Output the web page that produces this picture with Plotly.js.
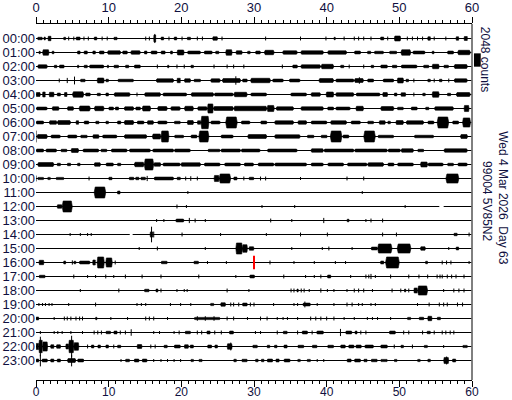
<!DOCTYPE html>
<html><head><meta charset="utf-8">
<script src="https://cdn.plot.ly/plotly-3.0.1.min.js"></script>
<style>html,body{margin:0;padding:0;background:#fff}#chart{width:512px;height:400px}</style>
</head><body><div id="chart"></div>
<script>
// ---- data ----
const hourLabels = ['00:00','01:00','02:00','03:00','04:00','05:00','06:00','07:00','08:00','09:00','10:00','11:00',
  '12:00','13:00','14:00','15:00','16:00','17:00','18:00','19:00','20:00','21:00','22:00','23:00'];
const minuteTicks = [0, 10, 20, 30, 40, 50, 60];
const ROW_COUNTS = 2150;          // vertical offset between hour lines, counts
const traceEnd = 59.9;            // minutes drawn on each line
const gapRows  = [12, 14];
const gapStart = [55.5, 12.9];
const gapEnd   = [56.1, 13.3];
const markerMinute = 30, markerRow = 16, markerAmp = 1050;
const scaleCounts = 2048, scaleTop = -2280;
// bursts per hour: [startMin, endMin, halfAmplitudeCounts]  (start == end: single spike)
const e00 = [[0.2,0.9,190],[1.1,1.3,220],[1.65,2.1,340],[3.8,4.1,190],[4.5,4.5,300],[5.2,5.2,300],[5.5,6.1,220],[6.6,6.6,300],[7.2,7.2,300],[8.0,8.4,220],[9.1,9.1,300],[9.8,9.8,300],[10.7,11.2,190],[15.1,15.1,300],[15.6,15.6,300],[16.2,16.5,520],[16.35,16.35,700],[17.2,17.6,220],[18.3,18.3,300],[19.0,19.4,220],[20.1,20.1,300],[20.8,21.3,190],[22.2,22.2,300],[22.9,22.9,300],[24.3,25.0,260],[25.6,25.6,300],[31.6,31.6,300],[36.4,36.4,300],[39.9,39.9,300],[41.0,41.2,190],[42.4,42.4,300],[43.8,43.8,300],[44.4,44.4,300],[45.1,45.1,300],[46.1,46.1,300],[47.4,47.9,220],[48.4,48.4,300],[49.3,50.2,380],[51.1,51.1,300],[51.8,51.8,300],[52.5,52.5,300],[53.2,53.2,300],[53.9,54.3,260],[54.8,54.8,300],[56.4,56.4,300],[57.8,58.2,260],[58.9,59.4,300]];
const e01 = [[0.4,0.6,190],[0.9,1.8,420],[2.2,2.5,190],[5.7,6.1,220],[6.6,7.1,220],[7.8,8.2,220],[8.7,9.4,220],[9.8,11.7,260],[11.9,12.6,220],[13.0,14.4,260],[14.9,15.3,220],[15.8,16.7,220],[17.2,17.8,220],[18.5,18.8,220],[19.4,20.4,380],[20.8,22.7,220],[23.1,24.3,220],[24.7,25.2,190],[26.1,27.0,420],[27.5,28.4,260],[29.1,29.5,190],[30.2,30.9,220],[31.4,32.8,340],[33.9,36.0,260],[36.4,39.6,260],[40.1,42.8,260],[43.8,44.7,220],[45.6,46.1,190],[46.5,47.9,190],[48.6,49.7,190],[50.2,51.6,420],[51.8,53.6,220],[54.5,54.8,190],[56.6,57.5,220],[58.0,59.8,340]];
const e02 = [[0.2,1.6,260],[2.5,2.9,190],[3.2,3.9,220],[5.7,5.9,190],[6.6,7.1,190],[7.3,9.4,220],[9.8,10.0,190],[10.7,11.4,190],[12.3,12.8,190],[13.5,14.4,220],[16.7,16.7,300],[18.1,18.3,190],[19.4,19.4,300],[20.4,20.4,300],[21.3,21.7,190],[24.5,24.5,300],[26.3,26.3,300],[27.2,27.2,300],[28.6,28.6,300],[33.9,33.9,300],[35.3,36.0,220],[36.4,39.2,260],[39.2,41.0,340],[41.9,42.4,190],[43.1,43.1,300],[45.1,45.1,300],[46.1,46.5,190],[47.4,48.4,220],[49.0,49.7,190],[50.2,52.5,220],[53.3,54.1,190],[54.5,55.5,340],[56.1,56.8,190],[57.5,59.4,300]];
const e03 = [[3.2,3.2,300],[4.3,4.3,400],[5.3,5.3,600],[6.1,6.8,190],[8.4,9.4,380],[9.6,10.0,190],[11.2,13.5,190],[16.5,19.0,260],[19.4,19.9,340],[20.4,21.3,260],[21.7,22.7,190],[24.0,25.4,260],[25.6,28.2,300],[27.5,27.5,650],[28.4,29.1,220],[29.5,32.3,340],[32.5,34.1,220],[34.8,36.4,220],[38.9,41.0,300],[41.2,43.8,220],[43.8,45.1,300],[44.5,44.5,500],[45.6,46.5,220],[47.7,49.3,220],[49.7,50.6,380],[50.9,51.3,190],[52.0,52.0,300],[53.9,54.3,190],[54.8,54.8,300],[55.5,55.9,190],[56.8,56.8,300],[57.5,59.4,260]];
const e04 = [[0.0,0.6,300],[0.9,1.3,380],[1.8,2.5,340],[2.9,3.4,220],[3.9,4.3,300],[5.0,6.6,420],[6.8,7.5,220],[8.4,8.9,190],[9.6,10.0,220],[10.7,13.0,260],[13.9,13.9,300],[14.9,17.2,260],[17.4,20.8,220],[21.3,24.5,260],[24.5,27.2,220],[27.2,29.1,340],[29.5,31.8,220],[35.0,37.3,220],[37.8,39.2,260],[39.9,41.0,380],[41.2,43.8,260],[44.0,47.4,220],[47.7,48.4,300],[49.3,49.7,220],[50.2,50.9,260],[52.0,52.0,300],[53.2,53.6,190],[54.5,55.5,420],[56.6,57.1,190],[57.8,59.8,300]];
const e05 = [[0.0,1.6,220],[2.2,3.2,260],[4.3,5.2,260],[5.9,7.5,380],[8.0,9.4,340],[10.0,10.7,220],[10.9,11.4,220],[12.1,13.5,260],[13.7,14.4,220],[14.6,15.8,380],[16.7,18.1,300],[18.5,19.9,260],[20.4,21.7,340],[22.2,23.6,260],[23.6,24.4,700],[24.4,27.2,300],[27.2,31.8,340],[31.8,32.8,470],[33.0,35.5,260],[36.4,39.6,260],[40.1,41.0,220],[41.2,43.3,220],[44.0,45.1,340],[47.4,49.3,300],[49.7,50.6,190],[51.6,52.5,220],[53.6,54.1,190],[54.8,57.5,260],[58.9,59.6,470]];
const e06 = [[0.0,1.1,220],[1.8,2.9,260],[2.9,4.8,300],[5.5,5.9,260],[6.6,7.3,220],[8.2,8.7,190],[9.6,10.0,190],[11.2,11.7,220],[12.1,13.5,300],[13.9,14.9,220],[15.3,16.2,260],[16.7,18.1,220],[19.0,19.9,190],[20.8,21.7,300],[22.2,22.7,260],[22.7,23.8,950],[24.0,25.4,220],[26.1,27.7,850],[28.2,29.5,220],[30.9,31.8,220],[32.8,35.5,260],[36.0,37.3,260],[37.8,40.1,220],[40.5,42.8,260],[43.3,44.7,220],[45.6,46.5,190],[47.2,48.1,260],[48.4,48.8,190],[49.5,50.6,300],[50.9,53.4,260],[53.9,54.8,220],[55.2,56.8,850],[57.3,58.2,220],[58.7,59.8,700]];
const e07 = [[0.0,0.0,900],[0.1,1.6,300],[2.0,3.4,220],[4.3,5.7,220],[6.1,7.1,190],[7.8,8.7,260],[9.1,11.2,220],[12.1,15.3,260],[16.0,17.2,380],[17.2,18.3,850],[19.0,20.4,190],[21.3,22.2,220],[22.4,23.8,850],[25.4,27.2,220],[29.1,31.8,300],[32.8,36.4,260],[37.3,38.3,190],[39.2,40.1,190],[40.5,42.1,850],[42.2,43.1,220],[45.1,46.7,850],[47.0,49.3,190],[52.0,54.8,190],[58.4,59.4,300]];
const e08 = [[0.0,1.1,220],[1.3,2.9,220],[3.4,4.3,190],[4.8,5.9,300],[6.4,8.7,220],[8.9,9.8,190],[10.3,12.6,220],[12.8,15.8,220],[16.0,19.0,220],[19.0,21.3,220],[23.6,25.4,190],[25.4,28.2,220],[28.2,30.9,220],[31.8,36.0,220],[37.8,39.6,260],[39.6,43.8,220],[43.8,48.4,220],[48.4,50.2,220],[50.2,52.0,260],[52.5,53.4,190],[56.1,59.4,260]];
const e09 = [[0.2,2.5,300],[2.9,3.4,190],[4.3,4.8,190],[5.7,6.1,190],[8.0,8.9,260],[9.6,10.7,220],[11.2,11.7,190],[13.5,14.9,340],[14.9,16.2,850],[16.2,17.2,260],[17.4,19.9,220],[19.9,22.7,260],[23.1,25.4,220],[25.9,28.2,220],[28.6,30.0,220],[30.5,32.8,220],[32.8,37.3,220],[37.8,39.6,220],[40.1,42.4,220],[42.8,45.6,220],[45.6,47.9,260],[48.4,49.3,220],[49.7,52.0,220],[52.9,53.9,380],[53.9,56.1,220],[56.6,57.5,190],[58.0,59.4,220]];
const e10 = [[0.0,0.0,450],[0.2,1.1,170],[1.6,2.0,170],[2.7,3.9,170],[7.3,7.3,300],[10.0,10.5,190],[12.8,13.5,190],[13.7,14.2,190],[14.4,15.1,190],[15.3,15.3,400],[16.2,19.0,220],[19.4,19.9,190],[20.6,20.6,300],[21.3,21.3,350],[22.2,22.2,300],[24.5,25.2,470],[25.2,26.8,700],[27.2,27.7,220],[28.6,28.6,300],[29.3,30.0,190],[30.9,30.9,300],[31.6,31.6,300],[36.4,36.4,230],[42.8,42.8,300],[45.1,45.1,300],[56.4,58.2,700]];
const e11 = [[8.0,9.6,850],[11.2,11.6,220],[20.9,20.9,230],[44.9,44.9,230]];
const e12 = [[2.9,3.6,260],[3.6,5.0,850],[19.4,19.4,300],[20.7,20.7,230],[31.1,31.1,230],[35.6,35.6,230],[50.8,50.8,230]];
const e13 = [[16.6,16.6,230],[17.6,17.6,230],[19.2,20.4,220],[21.1,21.1,400],[21.9,21.9,300],[23.3,23.3,230],[32.3,32.3,300],[35.2,35.2,230],[39.6,39.6,400],[42.8,43.1,190],[45.4,45.4,230],[46.1,46.1,300],[47.7,47.7,300]];
const e14 = [[4.7,4.7,230],[6.1,6.1,230],[7.1,7.1,230],[7.6,7.6,230],[15.9,15.9,1200],[15.7,16.1,400],[16.2,16.2,450],[20.1,20.1,300],[25.4,25.4,230],[31.7,31.7,230],[36.4,36.4,300],[40.1,40.1,300],[47.7,47.7,300],[49.6,49.6,300],[57.5,58.0,190],[59.6,59.6,300]];
const e15 = [[14.2,14.2,230],[16.7,16.7,300],[23.3,23.3,230],[27.5,28.4,850],[28.4,29.1,580],[29.3,30.0,260],[35.2,35.2,230],[39.4,39.4,230],[40.3,40.3,300],[43.5,43.5,230],[46.1,47.0,220],[47.0,49.0,700],[49.7,51.6,700],[52.9,53.6,260],[56.8,56.8,230],[57.8,58.2,220]];
const e16 = [[0.4,1.1,340],[3.8,4.1,220],[5.0,5.0,330],[5.2,5.5,190],[5.9,7.5,220],[7.8,8.2,380],[8.4,9.4,850],[9.6,10.5,700],[10.9,10.9,300],[17.2,18.1,190],[21.7,22.4,190],[23.6,23.6,230],[26.2,26.2,230],[32.2,32.2,300],[35.5,35.5,230],[38.3,38.3,230],[41.2,41.2,230],[42.6,42.6,230],[47.4,47.9,220],[48.1,50.0,850],[53.6,53.9,190],[55.9,55.9,300],[56.5,56.5,300],[57.1,57.1,300],[59.6,59.6,230]];
const e17 = [[0.4,1.3,190],[5.2,5.2,300],[7.1,7.1,230],[8.2,8.2,230],[9.6,9.6,300],[10.7,10.7,230],[12.3,12.3,300],[14.6,14.6,300],[17.2,17.2,300],[22.4,22.4,300],[27.5,27.5,230],[29.4,30.1,220],[34.1,34.1,300],[37.1,37.1,230],[38.3,38.3,230],[39.2,39.2,300],[40.1,40.6,220],[43.3,43.3,230],[45.4,45.4,300],[45.8,45.8,300],[46.1,46.1,400],[46.7,46.7,230],[48.8,48.8,300],[51.3,51.3,300],[52.7,52.7,300],[53.9,53.9,300],[55.2,55.2,300],[55.6,55.6,300],[55.9,55.9,300],[56.6,56.6,300],[57.2,57.2,300],[57.8,57.8,300],[58.9,58.9,300]];
const e18 = [[6.1,6.1,230],[11.4,11.4,300],[14.9,15.6,190],[16.5,16.8,220],[17.2,17.2,300],[19.4,19.4,230],[20.4,20.4,230],[20.8,20.8,230],[26.3,26.3,300],[29.3,29.3,230],[35.1,35.1,300],[35.5,35.5,300],[35.9,36.1,220],[36.5,36.5,300],[36.9,36.9,300],[37.6,37.6,230],[39.2,39.2,330],[40.1,40.1,230],[41.0,41.0,230],[42.8,42.8,230],[43.8,43.8,300],[44.4,44.4,300],[45.1,45.1,300],[46.3,46.3,230],[49.0,49.0,300],[50.2,50.2,300],[50.7,50.9,220],[51.3,51.3,300],[52.0,52.5,380],[52.5,53.9,700],[56.1,56.1,230],[57.5,57.5,300],[58.2,58.2,300],[58.9,58.9,300]];
const e19 = [[0.4,0.4,230],[0.9,0.9,230],[1.3,1.3,230],[1.8,1.8,230],[2.2,2.2,230],[4.5,4.5,230],[8.2,8.2,300],[13.9,13.9,230],[14.5,14.5,230],[15.1,15.1,230],[18.5,18.5,230],[19.9,19.9,230],[21.3,21.3,230],[24.0,24.5,170],[25.4,26.1,260],[26.8,26.8,300],[27.2,27.2,300],[27.9,27.9,300],[28.4,29.1,220],[29.5,29.5,300],[30.0,30.0,300],[32.7,32.7,230],[35.5,35.5,230],[36.0,36.0,230],[36.7,37.8,220],[37.0,37.0,450],[38.7,38.7,230],[41.0,41.0,230],[42.8,42.8,300],[43.5,43.5,300],[44.4,44.4,230],[44.9,44.9,230],[46.1,46.1,230],[46.7,46.7,230],[52.5,52.5,230],[54.1,54.1,300],[55.5,55.5,300],[56.1,56.1,300],[56.6,56.6,300],[58.0,58.0,300],[58.7,58.7,300]];
const e20 = [[0.0,0.4,220],[2.5,2.5,230],[3.9,3.9,300],[4.3,4.3,300],[4.8,4.8,300],[5.5,5.5,300],[6.0,6.0,300],[6.4,6.4,300],[8.2,8.4,190],[10.3,10.3,230],[12.6,12.6,230],[15.1,15.1,300],[15.6,15.6,300],[16.2,16.2,300],[18.1,18.1,230],[21.7,25.4,170],[22.2,22.2,350],[23.3,23.3,350],[24.5,24.5,350],[26.3,26.3,300],[27.2,27.2,300],[29.1,29.1,230],[30.9,30.9,300],[31.8,31.8,300],[33.2,33.2,230],[34.0,34.0,230],[34.6,34.6,230],[36.0,36.0,230],[37.8,37.8,300],[38.5,38.5,300],[39.2,39.2,300],[40.0,40.0,300],[41.0,41.0,300],[42.4,42.4,230],[43.8,43.8,230],[45.6,45.6,230],[46.3,46.3,230],[47.0,47.0,230],[48.8,48.8,230],[51.1,51.6,170],[52.7,53.4,190],[53.9,54.5,340],[55.2,55.7,190]];
const e21 = [[0.6,0.6,230],[2.5,2.5,230],[3.0,3.0,230],[3.6,3.6,230],[4.8,4.8,230],[6.4,6.4,230],[8.0,8.0,300],[8.5,8.5,300],[9.0,9.0,300],[9.6,10.3,190],[10.7,11.2,220],[11.6,11.6,300],[12.3,12.3,300],[13.1,13.1,500],[16.2,16.2,230],[17.0,17.0,230],[19.0,19.0,230],[19.7,19.7,300],[20.5,21.3,190],[22.2,22.2,300],[22.8,22.8,300],[23.5,24.0,220],[24.6,24.6,300],[25.5,25.5,300],[26.6,27.2,220],[30.2,30.2,230],[30.9,30.9,230],[33.2,33.2,300],[34.0,34.6,190],[36.0,36.0,300],[36.6,37.4,220],[38.0,38.0,300],[38.6,39.6,220],[41.9,41.9,550],[42.6,43.5,220],[43.9,44.2,220],[44.7,44.7,300],[45.4,45.4,300],[48.6,49.5,220],[50.6,50.6,300],[51.3,51.3,300],[53.2,53.2,300],[53.8,54.3,190],[54.8,54.8,300],[55.9,55.9,300],[56.4,56.4,300],[57.0,57.0,300],[57.5,57.5,300]];
const e22 = [[0.0,0.4,470],[0.4,0.9,950],[0.6,0.6,1500],[0.9,1.6,700],[2.0,2.5,260],[2.8,3.4,260],[4.1,4.5,380],[4.5,5.2,950],[4.9,4.9,1650],[5.2,5.9,580],[7.1,7.1,300],[7.6,8.0,220],[8.5,8.9,220],[9.6,10.0,220],[10.7,10.7,300],[11.2,11.7,190],[13.9,14.6,300],[15.8,15.8,300],[16.4,16.4,300],[17.6,18.1,190],[19.0,19.9,220],[20.4,21.0,260],[21.2,21.7,220],[23.6,24.2,220],[24.6,25.0,220],[26.3,27.0,420],[26.8,26.8,600],[29.8,30.5,190],[31.8,32.2,190],[32.8,33.2,190],[34.1,34.6,220],[36.0,36.9,190],[38.0,38.7,190],[40.1,41.0,190],[41.9,42.6,220],[43.0,43.8,220],[44.0,44.8,220],[45.2,46.5,220],[47.4,48.4,220],[49.3,49.3,300],[50.2,50.6,190],[51.8,51.8,300],[53.4,53.9,170],[56.1,56.1,230],[58.7,59.4,170]];
const e23 = [[0.0,0.4,220],[0.6,0.6,900],[0.8,1.6,220],[2.0,2.5,220],[2.9,3.4,220],[4.3,5.5,300],[4.9,4.9,900],[5.7,6.6,220],[11.7,11.7,230],[12.3,12.9,190],[13.5,14.2,220],[14.6,15.3,220],[16.2,16.2,230],[17.2,17.2,230],[18.1,18.1,230],[19.0,19.0,230],[19.9,19.9,230],[21.3,21.7,170],[22.4,22.9,170],[27.2,27.6,190],[28.3,29.1,190],[30.2,30.6,190],[31.0,31.4,190],[31.8,32.6,220],[33.0,33.5,220],[34.1,35.0,220],[36.0,36.4,170],[37.3,37.8,170],[38.7,38.7,230],[39.6,39.6,230],[42.8,43.4,220],[43.8,44.7,220],[45.1,45.6,190],[46.1,47.0,190],[47.4,48.4,170],[49.3,49.7,170],[52.5,52.9,170],[53.9,54.3,190],[56.1,56.8,470],[56.5,56.5,600],[57.3,57.8,220]];
const hourBursts = [e00,e01,e02,e03,e04,e05,e06,e07,e08,e09,e10,e11,e12,e13,e14,e15,e16,e17,e18,e19,e20,e21,e22,e23];

// ---- build traces ----
const rowY = hourLabels.map((_, i) => -i * ROW_COUNTS);
const bx = [], by = [];
rowY.forEach((y0, r) => {
  let segs = [[0, traceEnd]];
  gapRows.forEach((gr, k) => {
    if (gr === r) {
      const ns = [];
      segs.forEach(s => {
        if (gapStart[k] > s[0]) ns.push([s[0], Math.min(s[1], gapStart[k])]);
        if (gapEnd[k] < s[1]) ns.push([Math.max(s[0], gapEnd[k]), s[1]]);
      });
      segs = ns;
    }
  });
  segs.forEach(s => { bx.push(s[0], s[1], null); by.push(y0, y0, null); });
});
const fx = [], fy = [], sx = [], sy = [];
hourBursts.forEach((list, r) => {
  const y0 = rowY[r];
  list.forEach(([a, b, amp]) => {
    if (b - a < 0.15) {
      const m = (a + b) / 2;
      sx.push(m, m, null); sy.push(y0 - amp, y0 + amp, null);
    } else {
      const t = Math.min(0.15, (b - a) * 0.1);
      fx.push(a, a + t, b - t, b, b - t, a + t, a, null);
      fy.push(y0, y0 + amp, y0 + amp, y0, y0 - amp, y0 - amp, y0, null);
    }
  });
});

const PX_PER_ROW = 14, FIRST_ROW_PX = 38.5, TOP_PX = 24, BOTTOM_PX = 380;
const cpp = ROW_COUNTS / PX_PER_ROW;
const yRange = [-(BOTTOM_PX - FIRST_ROW_PX) * cpp, (FIRST_ROW_PX - TOP_PX) * cpp];

const navy = '#101040';
const fontFam = '"Liberation Sans", Arial, sans-serif';
const data = [
  {type:'scatter', mode:'lines', x:bx, y:by, line:{color:'#000', width:1}, hoverinfo:'skip', showlegend:false},
  {type:'scatter', mode:'lines', x:fx, y:fy, fill:'toself', fillcolor:'#000', line:{color:'#000', width:0.6}, hoverinfo:'skip', showlegend:false},
  {type:'scatter', mode:'lines', x:sx, y:sy, line:{color:'#000', width:1}, hoverinfo:'skip', showlegend:false},
  {type:'scatter', mode:'lines', xaxis:'x2', x:[markerMinute, markerMinute],
   y:[rowY[markerRow] - markerAmp, rowY[markerRow] + markerAmp], line:{color:'#ff0000', width:2}, hoverinfo:'skip', showlegend:false}
];
const axCommon = {range:[0,60], tickvals:minuteTicks, ticks:'outside', ticklen:6, tickcolor:'#000', tickwidth:1,
  showline:true, linecolor:'#000', linewidth:1, showgrid:false, zeroline:false,
  tickfont:{family:fontFam, size:13, color:navy},
  minor:{dtick:1, ticks:'outside', ticklen:3, tickcolor:'#000', showgrid:false}};
const layout = {
  width:512, height:400, margin:{l:36, r:40, t:24, b:20}, paper_bgcolor:'#fff', plot_bgcolor:'#fff',
  showlegend:false,
  xaxis: Object.assign({}, axCommon, {side:'bottom', ticklabelstandoff:-5,
    tickfont:{family:fontFam, size:12, color:navy}}),
  xaxis2: Object.assign({}, axCommon, {side:'top', overlaying:'x'}),
  yaxis: {range:yRange, showgrid:false, zeroline:false, showline:false, ticks:'',
    tickvals:rowY, ticktext:hourLabels, tickfont:{family:fontFam, size:13, color:navy}},
  shapes: [
    {type:'line', xref:'paper', yref:'paper', x0:1, x1:1, y0:0, y1:1, line:{color:'#000', width:1}},
    {type:'rect', xref:'paper', yref:'y', x0:1.0045, x1:1.02, y0:scaleTop - scaleCounts, y1:scaleTop,
     fillcolor:'#000', line:{width:0}}
  ],
  annotations: [
    {text: scaleCounts + ' counts', xref:'paper', yref:'paper', x:1.030, y:0.902, textangle:90, showarrow:false,
     xanchor:'center', yanchor:'middle', font:{family:fontFam, size:12, color:navy}},
    {text:'Wed 4 Mar 2026  Day 63', xref:'paper', yref:'paper', x:1.071, y:0.511, textangle:90, showarrow:false,
     xanchor:'center', yanchor:'middle', font:{family:fontFam, size:12, color:navy}},
    {text:'99004 5V85N2', xref:'paper', yref:'paper', x:1.034, y:0.503, textangle:90, showarrow:false,
     xanchor:'center', yanchor:'middle', font:{family:fontFam, size:12, color:navy}}
  ]
};
Plotly.newPlot('chart', data, layout, {staticPlot:true, displayModeBar:false});
</script></body></html>
